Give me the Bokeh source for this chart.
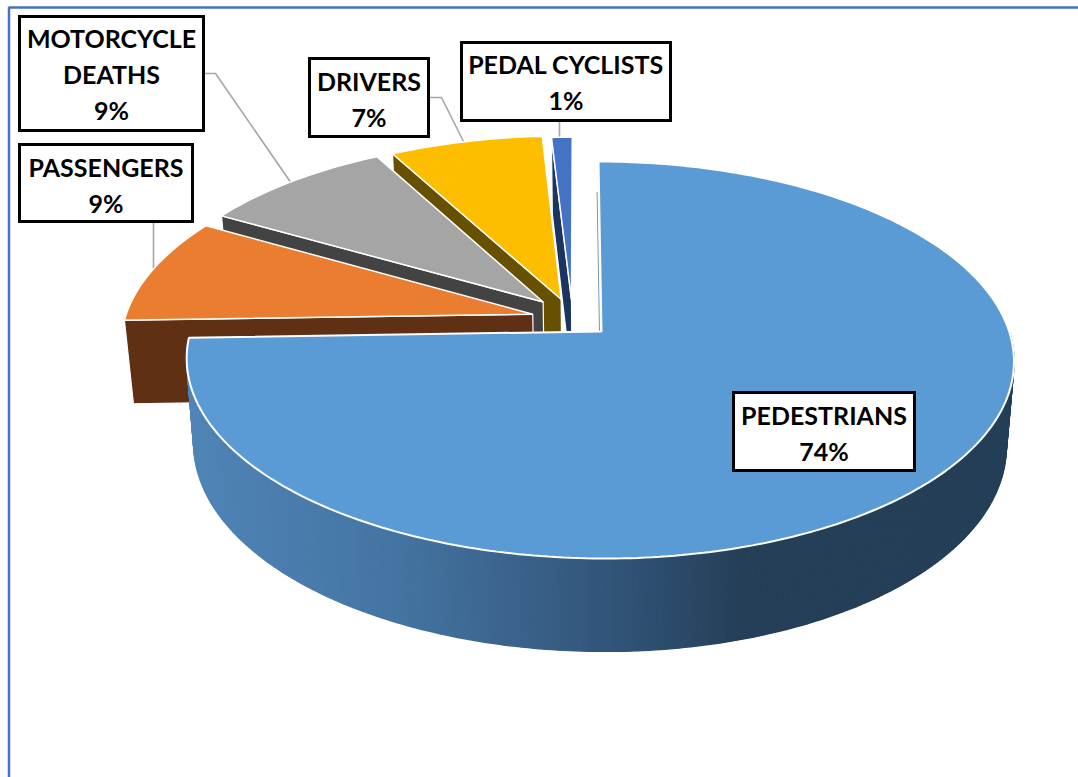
import math
from bokeh.plotting import figure
from bokeh.models import Range1d
from bokeh.core.properties import value
from bokeh.embed import file_html
from bokeh.resources import INLINE

# ---- data ----
categories = ["PEDESTRIANS", "PASSENGERS", "MOTORCYCLE DEATHS", "DRIVERS", "PEDAL CYCLISTS"]
shares = [74.5, 8.75, 8.8, 7.0, 0.95]
shown_pct = [74, 9, 9, 7, 1]
top_colors = ["#5b9bd5", "#eb7d31", "#a5a5a5", "#fdbe00", "#4472c4"]
wall_colors = ["#3a6288", "#5f3013", "#434343", "#675000", "#1c3460"]

# ---- layout ----
W, H = 1078, 777
explode = [(0, 0), (-0.17, 0.09), (-0.145, 0.155), (-0.10, 0.17), (-0.074, 0.167)]
radius = [1.0, 1.01, 1.0, 1.005, 1.0]
TOP = dict(x0=601, y0=331, A=407.7, B=194.4, S=-3.4, k=0.1436)
BOT = dict(x0=601, y0=415, A=400.0, B=202.0, S=-3.4, k=0.1436)
MAIN_TOP = dict(TOP, AL=411.0)
MAIN_BOT = dict(BOT, AL=404.0)
label_lines = [["PEDESTRIANS"], ["PASSENGERS"], ["MOTORCYCLE", "DEATHS"], ["DRIVERS"], ["PEDAL CYCLISTS"]]
boxes = [(733, 914, 392, 470), (19, 192, 144, 221), (19, 203, 16, 130), (309, 428, 58, 136), (461, 670, 42, 120)]
first_y = [414, 166, 37.5, 80, 63]
line_gap = 36
leaders_x = [[204, 215, 291], [153, 153], [429, 441, 464], [559, 559]]
leaders_y = [[73, 73, 183], [222, 269], [97, 97, 143], [121, 137]]


def project(P, u, v):
    w = 1 + P["k"] * v
    A = P.get("AL", P["A"]) if u < 0 else P["A"]
    return P["x0"] + (A * u + P["S"] * v) / w, P["y0"] - P["B"] * v / w


def arc(P, a0, a1, off, n=80, R=1.0):
    pts = []
    for i in range(n + 1):
        t = math.radians(a0 + (a1 - a0) * i / n)
        pts.append(project(P, R * math.sin(t) + off[0], R * math.cos(t) + off[1]))
    return pts


def mix(c0, c1, t):
    return "#%02x%02x%02x" % tuple(round(a + (b - a) * t) for a, b in zip(c0, c1))


def rim_color(x):
    stops = [(190, (80, 133, 183)), (400, (68, 116, 162)), (520, (58, 98, 138)), (640, (47, 80, 115)),
             (740, (36, 63, 87)), (1020, (36, 63, 87))]
    for (x0, c0), (x1, c1) in zip(stops, stops[1:]):
        if x <= x1:
            return mix(c0, c1, max(0, (x - x0) / (x1 - x0)))
    return mix(stops[-1][1], stops[-1][1], 0)


p = figure(width=W, height=H, x_range=Range1d(0, W), y_range=Range1d(H, 0),
           output_backend="svg", toolbar_location=None, min_border=0,
           x_axis_location=None, y_axis_location=None, outline_line_color=None,
           background_fill_color="white", border_fill_color="white")
p.grid.visible = False

# frame
p.line([8.5, 8.5, W], [H, 7, 7], line_color="#4472c4", line_width=2.5)

# angular extents, clockwise from north
starts, a = [], 0.0
for s in shares:
    starts.append(a)
    a += s * 3.6
ends = [starts[i] + shares[i] * 3.6 for i in range(len(shares))]

# leader lines
for lx, ly in zip(leaders_x, leaders_y):
    p.line(lx, ly, line_color="#a6a6a6", line_width=1.6)

# exploded slices, far to near
for i in [4, 3, 2, 1]:
    off = explode[i]
    R = radius[i]
    t0 = project(TOP, *off)
    b0 = project(BOT, *off)
    r = math.radians(starts[i])
    t1 = project(TOP, R * math.sin(r) + off[0], R * math.cos(r) + off[1])
    b1 = project(BOT, R * math.sin(r) + off[0], R * math.cos(r) + off[1])
    p.patch([t0[0], t1[0], b1[0], b0[0]], [t0[1], t1[1], b1[1], b0[1]],
            fill_color=wall_colors[i], line_color="white", line_width=1.2)
    pts = [t0] + arc(TOP, starts[i], ends[i], off, 30, R)
    p.patch([q[0] for q in pts], [q[1] for q in pts], fill_color=top_colors[i],
            line_color="white", line_width=1.5)

# main slice: graded rim, then top
N = 240
top_pts = arc(MAIN_TOP, 90, ends[0], (0, 0), N)
bot_pts = arc(MAIN_BOT, 90, ends[0], (0, 0), N)
xs, ys, cs = [], [], []
for i in range(N):
    q = [top_pts[i], top_pts[i + 1], bot_pts[i + 1], bot_pts[i]]
    xs.append([c[0] for c in q])
    ys.append([c[1] for c in q])
    cs.append(rim_color((bot_pts[i][0] + bot_pts[i + 1][0]) / 2))
p.patches(xs, ys, fill_color=cs, line_color=cs, line_width=1.5)

# thin back wall of the main slice
edge = [project(TOP, 0, r / 10) for r in range(0, 9)]
p.line([c[0] - 2 for c in edge], [c[1] for c in edge], line_color="#7f95a8", line_width=1)

pts = [project(MAIN_TOP, 0, 0)] + arc(MAIN_TOP, 0, ends[0], (0, 0), 300)
p.patch([q[0] for q in pts], [q[1] for q in pts], fill_color=top_colors[0],
        line_color="white", line_width=2)

# labels
p.quad(left=[b[0] for b in boxes], right=[b[1] for b in boxes],
       top=[b[2] for b in boxes], bottom=[b[3] for b in boxes],
       fill_color="white", line_color="#000000", line_width=3, line_join="miter")
tx, ty, tt = [], [], []
for i, lines in enumerate(label_lines):
    cx = (boxes[i][0] + boxes[i][1]) / 2
    for j, s in enumerate(lines + [f"{shown_pct[i]}%"]):
        tx.append(cx)
        ty.append(first_y[i] + j * line_gap)
        tt.append(s)
p.text(tx, ty, text=tt, text_font=value("Lato"), text_font_style="bold",
       text_font_size="25px", text_align="center", text_baseline="middle", text_color="#000000")

open("out.html", "w").write(file_html(p, INLINE))
